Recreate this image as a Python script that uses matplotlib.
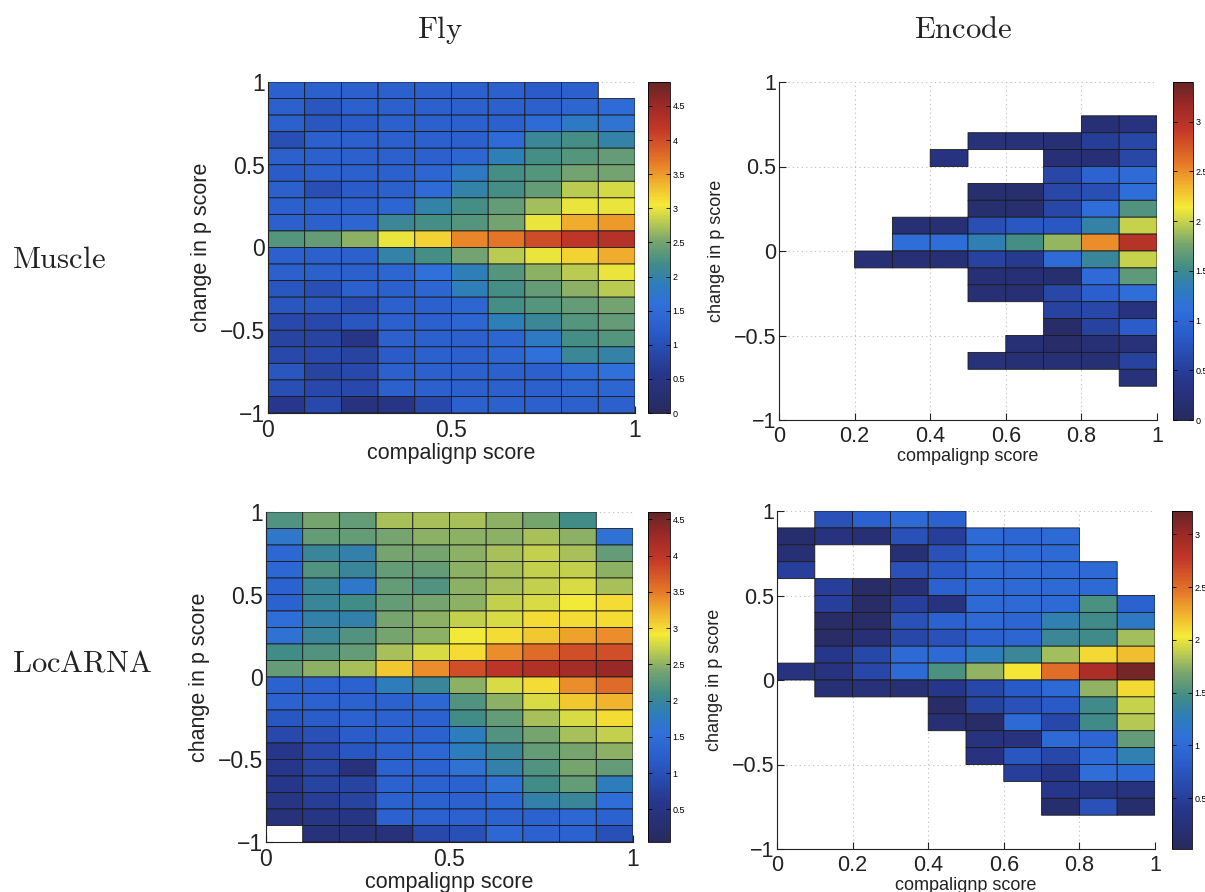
#Heatmaps of change in p score against compalignp score (Fly / Encode, Muscle / LocARNA)
import numpy as np
import matplotlib
matplotlib.use('Agg')
import matplotlib.pyplot as plt
from matplotlib.colors import LinearSegmentedColormap

plt.rcParams['font.family'] = ['Liberation Sans', 'DejaVu Sans']
plt.rcParams['mathtext.fontset'] = 'cm'

n = np.nan

#bin edges (10 columns of compalignp score, 20 rows of change in p score, top row first)
score_bins = np.round(np.linspace(0, 1, 11), 2)
change_bins = np.round(np.linspace(1, -1, 21), 2)

#Fly / Muscle
fly_muscle = [
    [1.3, 1.3, 1.3, 1.3, 1.3, 1.3, 1.3, 1.2, 1.3, n],
    [1.3, 1.1, 1.3, 1.3, 1.3, 1.3, 1.3, 1.3, 1.4, 1.5],
    [1.3, 1.1, 1.2, 1.3, 1.3, 1.3, 1.3, 1.5, 1.8, 1.7],
    [1.0, 1.3, 1.3, 1.3, 1.3, 1.3, 1.5, 2.1, 2.2, 2.0],
    [1.3, 1.3, 1.3, 1.3, 1.3, 1.4, 1.9, 2.2, 2.3, 2.4],
    [1.2, 1.3, 1.3, 1.3, 1.4, 1.8, 2.2, 2.3, 2.5, 2.5],
    [1.3, 1.0, 1.2, 1.3, 1.5, 2.0, 2.2, 2.4, 2.8, 2.9],
    [1.3, 1.3, 1.3, 1.4, 2.0, 2.2, 2.4, 2.7, 3.0, 3.0],
    [1.3, 1.3, 1.4, 2.1, 2.2, 2.3, 2.5, 3.0, 3.4, 3.5],
    [2.3, 2.4, 2.6, 3.0, 3.2, 3.6, 3.7, 4.0, 4.2, 4.3],
    [1.3, 1.3, 1.3, 2.0, 2.2, 2.5, 2.8, 3.0, 3.2, 3.4],
    [1.3, 1.3, 1.3, 1.4, 1.6, 1.9, 2.3, 2.6, 2.8, 3.0],
    [1.1, 1.0, 1.3, 1.3, 1.4, 1.9, 2.2, 2.4, 2.6, 2.8],
    [1.1, 1.1, 1.0, 1.3, 1.3, 1.4, 2.2, 2.3, 2.4, 2.5],
    [0.9, 0.9, 1.1, 1.3, 1.3, 1.4, 1.9, 2.1, 2.3, 2.4],
    [0.8, 0.8, 0.5, 1.3, 1.3, 1.3, 1.4, 1.8, 2.2, 2.3],
    [0.9, 0.9, 0.8, 1.2, 1.3, 1.3, 1.4, 1.6, 2.1, 2.0],
    [1.1, 0.8, 0.9, 1.3, 1.3, 1.3, 1.3, 1.3, 1.5, 1.6],
    [1.0, 0.9, 0.9, 1.3, 1.3, 1.3, 1.3, 1.3, 1.4, 1.4],
    [0.6, 0.9, 0.4, 0.5, 0.9, 1.3, 1.3, 1.3, 1.3, 1.3],
]

#Encode / Muscle
encode_muscle = [
    [n, n, n, n, n, n, n, n, n, n],
    [n, n, n, n, n, n, n, n, n, n],
    [n, n, n, n, n, n, n, n, 0.2, 0.3],
    [n, n, n, n, n, 0.25, 0.25, 0.2, 0.5, 0.6],
    [n, n, n, n, 0.3, n, n, 0.2, 0.2, 0.6],
    [n, n, n, n, n, n, n, 0.6, 0.95, 1.05],
    [n, n, n, n, n, 0.15, 0.15, 0.6, 0.7, 1.1],
    [n, n, n, n, n, 0.15, 0.15, 0.6, 1.1, 1.6],
    [n, n, n, 0.2, 0.2, 0.7, 0.8, 0.8, 1.4, 2.0],
    [n, n, n, 1.1, 1.1, 1.35, 1.55, 1.85, 2.5, 3.0],
    [n, n, 0.2, 0.2, 0.2, 0.55, 0.45, 1.05, 1.45, 2.0],
    [n, n, n, n, n, 0.2, 0.2, 0.15, 1.05, 1.65],
    [n, n, n, n, n, 0.2, 0.2, 0.6, 0.9, 1.1],
    [n, n, n, n, n, n, n, 0.55, 0.6, 0.3],
    [n, n, n, n, n, n, n, 0.1, 0.55, 0.85],
    [n, n, n, n, n, n, 0.2, 0.1, 0.2, 0.25],
    [n, n, n, n, n, 0.25, 0.2, 0.2, 0.2, 0.55],
    [n, n, n, n, n, n, n, n, n, 0.25],
    [n, n, n, n, n, n, n, n, n, n],
    [n, n, n, n, n, n, n, n, n, n],
]

#Fly / LocARNA
fly_locarna = [
    [2.2, 2.4, 2.3, 2.6, 2.6, 2.6, 2.5, 2.4, 2.1, n],
    [1.7, 2.3, 2.3, 2.4, 2.5, 2.5, 2.5, 2.6, 2.5, 1.6],
    [1.4, 2.0, 1.9, 2.4, 2.4, 2.5, 2.6, 2.7, 2.6, 2.3],
    [1.4, 2.2, 2.0, 2.3, 2.3, 2.5, 2.6, 2.7, 2.7, 2.5],
    [1.3, 2.0, 1.7, 2.3, 2.2, 2.5, 2.6, 2.7, 2.8, 2.6],
    [1.3, 2.0, 2.1, 2.3, 2.4, 2.5, 2.7, 2.8, 2.9, 3.0],
    [1.5, 1.9, 1.9, 2.4, 2.5, 2.7, 2.8, 3.0, 3.0, 3.0],
    [1.6, 2.0, 2.2, 2.4, 2.5, 2.9, 3.0, 3.1, 3.3, 3.4],
    [2.1, 2.2, 2.3, 2.6, 2.8, 3.0, 3.4, 3.6, 3.8, 3.8],
    [2.3, 2.5, 2.6, 3.1, 3.4, 3.8, 4.0, 4.1, 4.2, 4.3],
    [1.3, 1.3, 1.3, 1.8, 2.0, 2.5, 2.8, 3.0, 3.4, 3.6],
    [1.3, 1.3, 1.3, 1.3, 1.4, 2.2, 2.5, 2.8, 3.1, 3.2],
    [1.1, 1.2, 1.3, 1.3, 1.3, 2.1, 2.3, 2.6, 2.8, 3.0],
    [0.9, 1.0, 1.2, 1.3, 1.3, 1.8, 2.2, 2.4, 2.6, 2.7],
    [0.6, 0.9, 1.1, 1.3, 1.4, 1.8, 2.0, 2.3, 2.4, 2.5],
    [0.6, 0.8, 0.4, 1.3, 1.3, 1.6, 1.9, 2.2, 2.4, 2.3],
    [0.6, 0.8, 0.8, 1.3, 1.3, 1.3, 1.6, 2.1, 2.3, 1.8],
    [0.5, 0.7, 0.8, 1.3, 1.3, 1.3, 1.4, 1.9, 2.0, 1.5],
    [0.4, 0.5, 0.5, 1.3, 1.3, 1.3, 1.3, 1.3, 1.4, 1.3],
    [n, 0.4, 0.4, 0.4, 0.9, 1.0, 1.4, 1.3, 1.3, 1.0],
]

#Encode / LocARNA
encode_locarna = [
    [n, 0.7, 0.9, 1.0, 0.9, n, n, n, n, n],
    [0.15, 0.3, 0.2, 0.7, 0.5, 1.0, 0.95, 1.0, n, n],
    [0.2, n, n, 0.2, 0.7, 1.0, 1.0, 1.0, n, n],
    [0.5, n, n, 0.7, 0.8, 1.0, 1.0, 1.0, 1.0, n],
    [n, 0.5, 0.1, 0.2, 0.9, 1.0, 1.0, 1.0, 1.0, n],
    [n, 0.5, 0.1, 0.5, 0.3, 1.0, 1.0, 1.0, 1.5, 0.9],
    [n, 0.1, 0.1, 0.7, 0.9, 1.0, 0.95, 1.3, 1.45, 1.2],
    [n, 0.1, 0.2, 0.6, 0.7, 0.9, 0.95, 1.4, 1.45, 1.8],
    [n, 0.4, 0.6, 1.0, 1.0, 1.25, 1.4, 1.8, 2.1, 2.2],
    [0.3, 0.3, 0.6, 1.0, 1.5, 1.75, 2.05, 2.5, 2.9, 3.15],
    [n, 0.2, 0.25, 0.2, 0.4, 0.6, 0.8, 1.0, 1.75, 2.1],
    [n, n, n, n, 0.1, 0.55, 0.7, 0.8, 1.45, 1.9],
    [n, n, n, n, 0.2, 0.1, 1.0, 0.6, 1.45, 1.85],
    [n, n, n, n, n, 0.3, 0.3, 1.0, 0.95, 1.6],
    [n, n, n, n, n, 0.3, 0.75, 0.6, 1.0, 1.3],
    [n, n, n, n, n, n, 0.5, 0.35, 1.05, 1.0],
    [n, n, n, n, n, n, n, 0.4, 0.35, 0.3],
    [n, n, n, n, n, n, n, 0.15, 0.7, 0.15],
    [n, n, n, n, n, n, n, n, n, n],
    [n, n, n, n, n, n, n, n, n, n],
]

#jet colormap as it looks on the printed page
jet_print = LinearSegmentedColormap.from_list('jet_print', [
    (0.00, (40/255, 42/255, 95/255)),
    (0.12, (38/255, 55/255, 140/255)),
    (0.25, (42/255, 92/255, 202/255)),
    (0.33, (48/255, 112/255, 218/255)),
    (0.39, (45/255, 125/255, 185/255)),
    (0.45, (65/255, 140/255, 135/255)),
    (0.52, (120/255, 165/255, 110/255)),
    (0.58, (190/255, 205/255, 80/255)),
    (0.63, (245/255, 235/255, 55/255)),
    (0.70, (240/255, 175/255, 45/255)),
    (0.76, (230/255, 120/255, 40/255)),
    (0.86, (195/255, 55/255, 40/255)),
    (0.94, (150/255, 40/255, 38/255)),
    (1.00, (100/255, 38/255, 38/255)),
])

W, H = 1205, 892
fig = plt.figure(figsize=(W / 100, H / 100), dpi=100)


def rect(x0, y0, x1, y1):
    return [x0 / W, 1 - y1 / H, (x1 - x0) / W, (y1 - y0) / H]


#Function to draw one heatmap with its colorbar
def drawPanel(axbox, cbbox, values, vmin, vmax, xticks, cbticks, ticksize, labelsize):
    ax = fig.add_axes(axbox)
    data = np.ma.masked_invalid(np.array(values, dtype=float))
    #pcolor leaves empty bins out completely (no face, no edge)
    mesh = ax.pcolor(score_bins, change_bins, data, cmap=jet_print, vmin=vmin, vmax=vmax,
                     edgecolors='#1a1a1a', linewidth=0.6, zorder=2)
    ax.set_xlim(0, 1)
    ax.set_ylim(-1, 1)
    ax.set_xticks(xticks)
    ax.set_xticklabels(['%g' % t for t in xticks])
    ax.set_yticks([-1, -0.5, 0, 0.5, 1])
    ax.set_yticklabels(['\u22121', '\u22120.5', '0', '0.5', '1'])
    ax.grid(True, linestyle=(0, (1, 3)), color='#bdbdbd', linewidth=0.8)
    ax.set_axisbelow(True)
    for side in ['top', 'right']:
        ax.spines[side].set_visible(False)
    for side in ['left', 'bottom']:
        ax.spines[side].set_linewidth(0.8)
        ax.spines[side].set_color('#222222')
    ax.tick_params(direction='in', length=5, width=0.8, labelsize=ticksize, colors='#222222')
    ax.tick_params(axis='y', pad=2)
    ax.tick_params(axis='x', pad=4)
    ax.set_xlabel('compalignp score', fontsize=labelsize, labelpad=1, color='#222222')
    ax.set_ylabel('change in p score', fontsize=labelsize, labelpad=6, color='#222222')

    cax = fig.add_axes(cbbox)
    cb = fig.colorbar(mesh, cax=cax)
    cb.set_ticks(cbticks)
    cb.set_ticklabels(['%g' % t for t in cbticks])
    cb.outline.set_linewidth(0.6)
    cax.tick_params(direction='in', length=3, width=0.6, left=True, right=True, labelsize=6.5, pad=2)
    return ax


drawPanel(rect(268, 82, 635, 413), rect(648, 82, 670, 413), fly_muscle, 0, 4.85,
          [0, 0.5, 1], [0, 0.5, 1, 1.5, 2, 2.5, 3, 3.5, 4, 4.5], 16.5, 15.5)
drawPanel(rect(779, 82, 1157, 420), rect(1173, 82, 1193, 420), encode_muscle, 0, 3.4,
          [0, 0.2, 0.4, 0.6, 0.8, 1], [0, 0.5, 1, 1.5, 2, 2.5, 3], 15.5, 13)
drawPanel(rect(266, 512, 633, 842), rect(648, 512, 670, 842), fly_locarna, 0.05, 4.6,
          [0, 0.5, 1], [0.5, 1, 1.5, 2, 2.5, 3, 3.5, 4, 4.5], 16.5, 15.5)
drawPanel(rect(777, 511, 1155, 849), rect(1172, 511, 1192, 849), encode_locarna, 0.02, 3.22,
          [0, 0.2, 0.4, 0.6, 0.8, 1], [0.5, 1, 1.5, 2, 2.5, 3], 15.5, 13)

#column and row titles
fig.text(440 / W, 1 - 30 / H, r'$\mathrm{Fly}$', fontsize=22, ha='center', va='center', color='#222222')
fig.text(963 / W, 1 - 30 / H, r'$\mathrm{Encode}$', fontsize=22, ha='center', va='center', color='#222222')
fig.text(12 / W, 1 - 260 / H, r'$\mathrm{Muscle}$', fontsize=22, ha='left', va='center', color='#222222')
fig.text(12 / W, 1 - 663 / H, r'$\mathrm{LocARNA}$', fontsize=22, ha='left', va='center', color='#222222')

plt.savefig('out.png', dpi=100)
